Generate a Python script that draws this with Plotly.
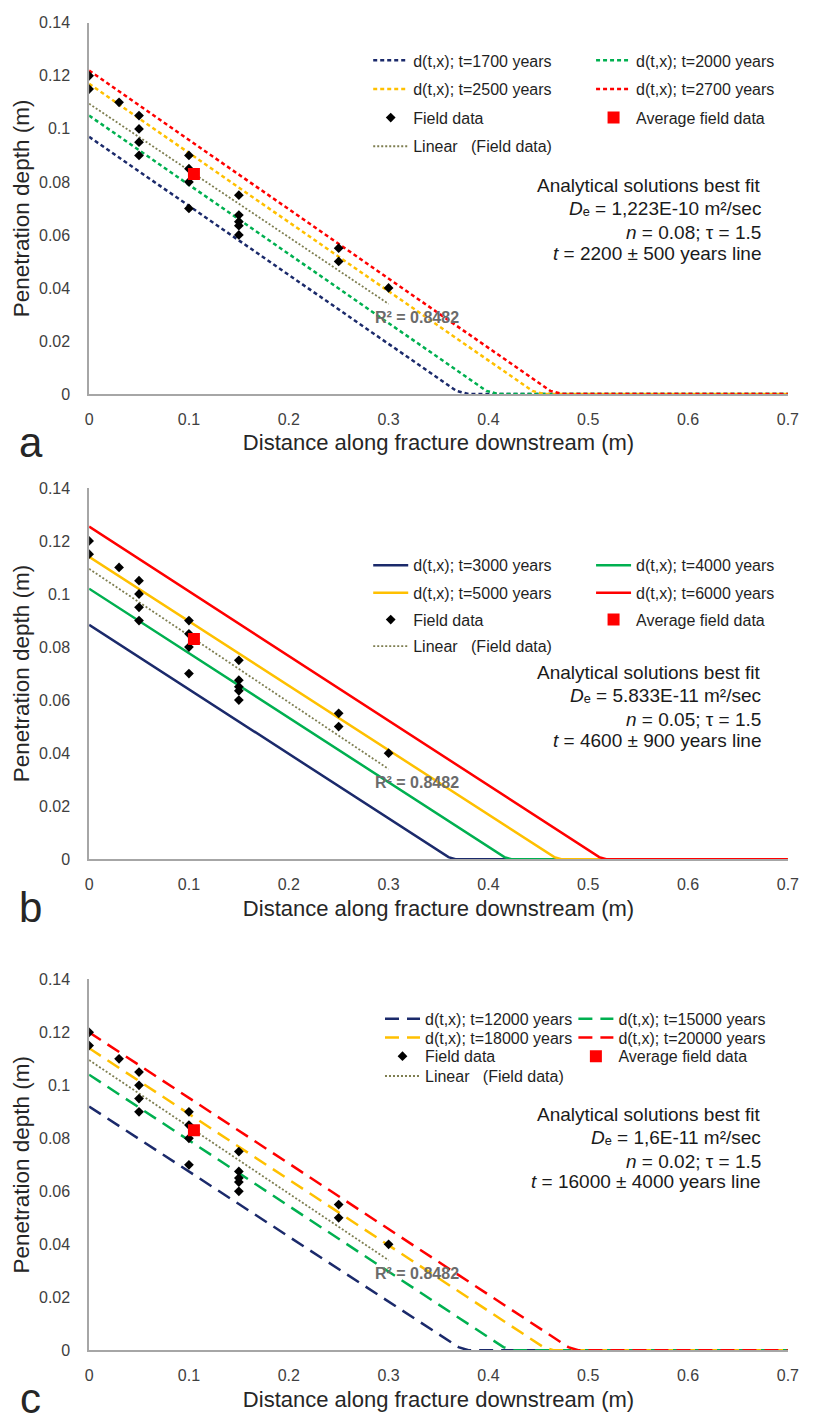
import plotly.graph_objects as go

W, H = 820, 1425
FONT = "Liberation Sans, Arial, sans-serif"

# ---------------- data ----------------
field_x = [0, 0, 0.03, 0.05, 0.05, 0.05, 0.05, 0.1, 0.1, 0.1, 0.1,
           0.15, 0.15, 0.15, 0.15, 0.15, 0.25, 0.25, 0.3]
field_y = [0.12, 0.115, 0.11, 0.105, 0.1, 0.095, 0.09, 0.09, 0.085, 0.08, 0.07,
           0.075, 0.0675, 0.065, 0.0635, 0.06, 0.055, 0.05, 0.04]
avg_x = [0.105]
avg_y = [0.083]
trend_x = [0, 0.3]
trend_y = [0.1095, 0.034]
r2_label = "R² = 0.8482"

line_colors = ["#1B2A6B", "#00B050", "#FFC000", "#FF0000"]

# panel a (short dash)
a_names = ["d(t,x); t=1700 years", "d(t,x); t=2000 years",
           "d(t,x); t=2500 years", "d(t,x); t=2700 years"]
a_x = [[0, 0.35, 0.368, 0.38, 0.7],
       [0, 0.38, 0.398, 0.41, 0.7],
       [0, 0.425, 0.444, 0.456, 0.7],
       [0, 0.445, 0.462, 0.474, 0.7]]
a_y = [[0.097, 0.0058, 0.0012, 0, 0],
       [0.105, 0.0057, 0.0012, 0, 0],
       [0.117, 0.006, 0.0012, 0, 0],
       [0.122, 0.0055, 0.0012, 0, 0]]
a_text = ["Analytical solutions best fit",
          "<i>D</i>ₑ = 1,223E-10 m²/sec",
          "<i>n</i> = 0.08; τ = 1.5",
          "<i>t</i> = 2200 ± 500 years line"]

# panel b (solid)
b_names = ["d(t,x); t=3000 years", "d(t,x); t=4000 years",
           "d(t,x); t=5000 years", "d(t,x); t=6000 years"]
b_x = [[0, 0.348, 0.36, 0.367, 0.7],
       [0, 0.404, 0.416, 0.423, 0.7],
       [0, 0.454, 0.466, 0.473, 0.7],
       [0, 0.499, 0.511, 0.518, 0.7]]
b_y = [[0.0884, 0.0039, 0.0008, 0, 0],
       [0.102, 0.0039, 0.0008, 0, 0],
       [0.114, 0.0039, 0.0008, 0, 0],
       [0.1254, 0.0039, 0.0008, 0, 0]]
b_text = ["Analytical solutions best fit",
          "<i>D</i>ₑ = 5.833E-11 m²/sec",
          "<i>n</i> = 0.05; τ = 1.5",
          "<i>t</i> = 4600 ± 900 years line"]

# panel c (long dash)
c_names = ["d(t,x); t=12000 years", "d(t,x); t=15000 years",
           "d(t,x); t=18000 years", "d(t,x); t=20000 years"]
c_x = [[0, 0.355, 0.37, 0.38, 0.7],
       [0, 0.4, 0.415, 0.425, 0.7],
       [0, 0.44, 0.455, 0.465, 0.7],
       [0, 0.465, 0.48, 0.49, 0.7]]
c_y = [[0.092, 0.0048, 0.0012, 0, 0],
       [0.104, 0.0049, 0.0012, 0, 0],
       [0.114, 0.005, 0.0012, 0, 0],
       [0.12, 0.0049, 0.0012, 0, 0]]
c_text = ["Analytical solutions best fit",
          "<i>D</i>ₑ = 1,6E-11 m²/sec",
          "<i>n</i> = 0.02; τ = 1.5",
          "<i>t</i> = 16000 ± 4000 years line"]

y_tickvals = [0, 0.02, 0.04, 0.06, 0.08, 0.1, 0.12, 0.14]
y_ticktext = ["0", "0.02", "0.04", "0.06", "0.08", "0.1", "0.12", "0.14"]
x_tickvals = [0, 0.1, 0.2, 0.3, 0.4, 0.5, 0.6, 0.7]
x_ticktext = ["0", "0.1", "0.2", "0.3", "0.4", "0.5", "0.6", "0.7"]
panel_letters = ["a", "b", "c"]
x_title = "Distance along fracture downstream (m)"
y_title = "Penetration depth (m)"

# ---------------- layout geometry (pixels) ----------------
X_LEFT, X_RIGHT = 86.7, 798.5
panels = [
    dict(top=15.0, bottom=390.7, names=a_names, xs=a_x, ys=a_y, dash="4px,3px",
         text=a_text, text_y=[180, 203, 227, 248],
         leg_cols=(371, 598), leg_rows=[53, 82, 111, 140]),
    dict(top=485.7, bottom=861.5, names=b_names, xs=b_x, ys=b_y, dash="solid",
         text=b_text, text_y=[673, 696, 720, 741],
         leg_cols=(371, 598), leg_rows=[564, 592, 619, 646]),
    dict(top=983.0, bottom=1358.5, names=c_names, xs=c_x, ys=c_y, dash="14px,8px",
         text=c_text, text_y=[1120, 1143, 1167, 1188],
         leg_cols=(383, 580), leg_rows=[1023, 1042, 1061, 1081]),
]


def px_x(p):
    return p / W


def px_y(p):
    return 1 - p / H


fig = go.Figure()
annotations = []
layout = dict(width=W, height=H, margin=dict(l=0, r=0, t=0, b=0),
              paper_bgcolor="white", plot_bgcolor="white",
              font=dict(family=FONT, color="#262626"), showlegend=True)

legend_count = [0]


def new_legend(x_px, y_px):
    legend_count[0] += 1
    n = legend_count[0]
    key = "legend" if n == 1 else "legend" + str(n)
    layout[key] = dict(x=px_x(x_px), y=px_y(y_px), xanchor="left", yanchor="middle",
                       orientation="v", bgcolor="rgba(0,0,0,0)", borderwidth=0,
                       font=dict(family=FONT, size=16, color="#1f1f1f"),
                       itemwidth=35)
    return key


for i, P in enumerate(panels):
    k = "" if i == 0 else str(i + 1)
    xa, ya = "x" + k, "y" + k
    c1, c2 = P["leg_cols"]
    rows = P["leg_rows"]
    # model lines (legend grid: 2 columns)
    for j in range(4):
        fig.add_trace(go.Scatter(
            x=P["xs"][j], y=P["ys"][j], mode="lines", name=P["names"][j],
            line=dict(color=line_colors[j], width=2.5, dash=P["dash"]),
            xaxis=xa, yaxis=ya, legend=new_legend(c1 if j % 2 == 0 else c2, rows[j // 2])))
    # trendline
    fig.add_trace(go.Scatter(
        x=trend_x, y=trend_y, mode="lines", name="Linear   (Field data)",
        line=dict(color="#7E7E50", width=1.8, dash="2px,2px"),
        xaxis=xa, yaxis=ya, legend=new_legend(c1, rows[3])))
    # field data
    fig.add_trace(go.Scatter(
        x=field_x, y=field_y, mode="markers", name="Field data",
        marker=dict(symbol="diamond", size=7.5, color="black"),
        xaxis=xa, yaxis=ya, legend=new_legend(c1, rows[2])))
    fig.add_trace(go.Scatter(
        x=avg_x, y=avg_y, mode="markers", name="Average field data",
        marker=dict(symbol="square", size=12, color="#FF0000"),
        xaxis=xa, yaxis=ya, legend=new_legend(c2, rows[2])))

    dom_y = [px_y(P["bottom"]), px_y(P["top"])]
    axis_common = dict(showgrid=False, zeroline=False, showline=True,
                       linecolor="#A6A6A6", linewidth=1.5, ticks="",
                       tickfont=dict(family=FONT, size=16, color="#404040"))
    layout["xaxis" + k] = dict(axis_common, domain=[px_x(X_LEFT), px_x(X_RIGHT)],
                               range=[0, 0.7], tickvals=x_tickvals, ticktext=x_ticktext,
                               anchor=ya, ticklabelstandoff=10,
                               title=dict(text=x_title, standoff=8,
                                          font=dict(family=FONT, size=22, color="#262626")))
    layout["yaxis" + k] = dict(axis_common, domain=dom_y, range=[0, 0.14],
                               tickvals=y_tickvals, ticktext=y_ticktext,
                               anchor=xa, ticklabelstandoff=14,
                               title=dict(text=y_title, standoff=3,
                                          font=dict(family=FONT, size=22.5, color="#262626")))
    # text block
    for t, ty in zip(P["text"], P["text_y"]):
        annotations.append(dict(text=t, x=px_x(773), y=px_y(ty), xref="paper", yref="paper",
                                xanchor="right", yanchor="middle", showarrow=False,
                                font=dict(family=FONT, size=19, color="#1a1a1a")))
    # R squared label
    annotations.append(dict(text=r2_label, x=0.328, y=0.029,
                            xref=xa, yref=ya, showarrow=False,
                            font=dict(family=FONT, size=16, color="#6b6b6b", weight="bold")))
    # panel letter
    annotations.append(dict(text=panel_letters[i], x=px_x(27), y=px_y(P["bottom"] + 49),
                            xref="paper", yref="paper", showarrow=False,
                            xanchor="center", yanchor="middle",
                            font=dict(family=FONT, size=42, color="#262626")))

layout["annotations"] = annotations
fig.update_layout(**layout)
fig.write_html("out.html")
